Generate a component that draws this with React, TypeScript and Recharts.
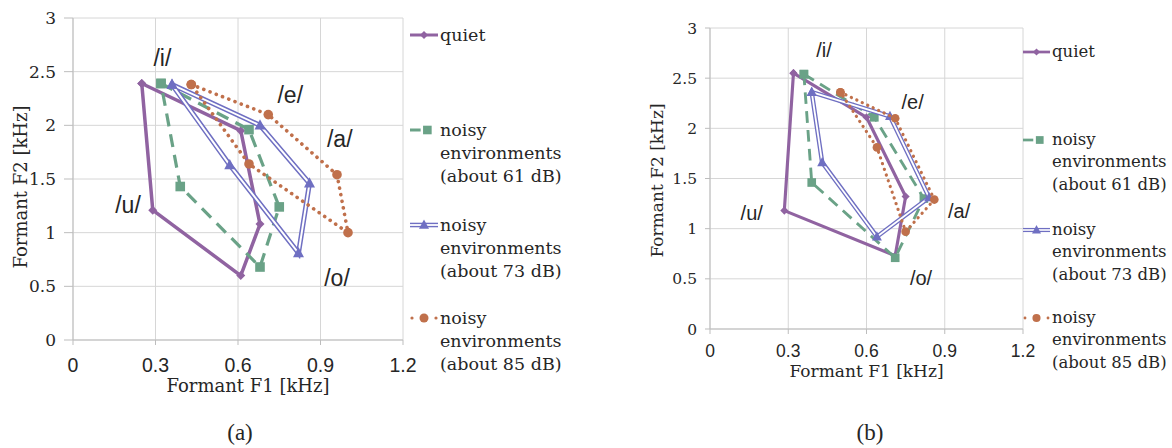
import React from 'react';
import { ScatterChart, Scatter, XAxis, YAxis, CartesianGrid, ReferenceDot } from 'recharts';

// ---------- shared ----------
const xTicks = [0, 0.3, 0.6, 0.9, 1.2];
const yTicks = [0, 0.5, 1, 1.5, 2, 2.5, 3];
const vowels = ['/i/', '/e/', '/a/', '/o/', '/u/'];
const legendLines = [
  ['quiet'],
  ['noisy', 'environments', '(about 61 dB)'],
  ['noisy', 'environments', '(about 73 dB)'],
  ['noisy', 'environments', '(about 85 dB)'],
];
const captions = ['(a)', '(b)'];
const xTitle = 'Formant F1 [kHz]';
const yTitle = 'Formant F2 [kHz]';

// ---------- panel (a) ----------  order: /i/, /e/, /a/, /o/, /u/
const aQuietF1 = [0.25, 0.61, 0.68, 0.61, 0.29];
const aQuietF2 = [2.39, 1.95, 1.08, 0.6, 1.21];
const a61F1 = [0.32, 0.64, 0.75, 0.68, 0.39];
const a61F2 = [2.39, 1.96, 1.24, 0.68, 1.43];
const a73F1 = [0.36, 0.68, 0.86, 0.82, 0.57];
const a73F2 = [2.38, 2.0, 1.46, 0.81, 1.63];
const a85F1 = [0.43, 0.71, 0.96, 1.0, 0.64];
const a85F2 = [2.38, 2.1, 1.54, 1.0, 1.64];
const aLabelF1 = [0.325, 0.79, 0.97, 0.96, 0.2];
const aLabelF2 = [2.63, 2.28, 1.87, 0.58, 1.26];

// ---------- panel (b) ----------
const bQuietF1 = [0.32, 0.6, 0.75, 0.71, 0.285];
const bQuietF2 = [2.55, 2.11, 1.32, 0.73, 1.18];
const b61F1 = [0.36, 0.63, 0.82, 0.71, 0.39];
const b61F2 = [2.54, 2.11, 1.3, 0.71, 1.46];
const b73F1 = [0.39, 0.69, 0.84, 0.64, 0.43];
const b73F2 = [2.36, 2.12, 1.31, 0.92, 1.66];
const b85F1 = [0.5, 0.71, 0.86, 0.75, 0.64];
const b85F2 = [2.36, 2.1, 1.29, 0.97, 1.81];
const bLabelF1 = [0.437, 0.777, 0.955, 0.809, 0.16];
const bLabelF2 = [2.78, 2.26, 1.18, 0.51, 1.16];

const PURPLE = '#9063a1';
const GREEN = '#6aa287';
const BLUE = '#6f6fc2';
const ORANGE = '#c0704b';
const GRID = '#d6d6d6';
const AXIS = '#bdbdbd';
const TEXT = '#262626';
const SERIF = "'DejaVu Serif', 'Liberation Serif', serif";
const SANS = "'Liberation Sans', Arial, sans-serif";

const closed = (f1: number[], f2: number[]) => {
  const pts = f1.map((x, i) => ({ x, y: f2[i] }));
  return [...pts, pts[0]];
};

const diamond = (s: number, color: string) => (p: any) => (
  <path d={`M${p.cx},${p.cy - s}L${p.cx + s},${p.cy}L${p.cx},${p.cy + s}L${p.cx - s},${p.cy}Z`} fill={color} />
);
const square = (s: number, color: string) => (p: any) => (
  <rect x={p.cx - s} y={p.cy - s} width={2 * s} height={2 * s} fill={color} />
);
const triangle = (s: number, color: string) => (p: any) => (
  <path d={`M${p.cx},${p.cy - s * 1.1}L${p.cx + s},${p.cy + s * 0.75}L${p.cx - s},${p.cy + s * 0.75}Z`} fill={color} />
);
const circle = (s: number, color: string) => (p: any) => <circle cx={p.cx} cy={p.cy} r={s} fill={color} />;
const none = () => <g />;

type PanelCfg = {
  left: number;
  width: number;
  height: number;
  top: number;
  right: number;
  yAxisWidth: number;
  xAxisHeight: number;
  xTickFont: number;
  yTickFont: number;
  xTickMargin: number;
  yTickSize: number;
  titleFont: number;
  labelFont: number;
  yTitleX: number;
  yTitleDy: number;
  xTitleDx: number;
  xTitleDy: number;
  scale: number;
  data: { q: any[]; d61: any[]; d73: any[]; d85: any[] };
  labels: { x: number; y: number; t: string }[];
};

function Panel({ c }: { c: PanelCfg }) {
  const k = c.scale;
  return (
    <div style={{ position: 'absolute', left: c.left, top: 0 }}>
      <ScatterChart width={c.width} height={c.height} margin={{ top: c.top, right: c.right, left: 0, bottom: 0 }}>
        <CartesianGrid stroke={GRID} strokeWidth={1} />
        <XAxis
          type="number"
          dataKey="x"
          domain={[0, 1.2]}
          ticks={xTicks}
          interval={0}
          height={c.xAxisHeight}
          axisLine={{ stroke: AXIS }}
          tickLine={{ stroke: AXIS }}
          tickSize={5}
          tickMargin={c.xTickMargin}
          tick={{ fontFamily: SANS, fontSize: c.xTickFont, fill: TEXT }}
          label={(p: any) => {
            const vb = p.viewBox;
            return (
              <text
                x={vb.x + vb.width / 2 + c.xTitleDx}
                y={vb.y + c.xTitleDy}
                textAnchor="middle"
                fontFamily={SERIF}
                fontSize={c.titleFont}
                fill={TEXT}
              >
                {xTitle}
              </text>
            );
          }}
        />
        <YAxis
          type="number"
          dataKey="y"
          domain={[0, 3]}
          ticks={yTicks}
          interval={0}
          width={c.yAxisWidth}
          axisLine={{ stroke: AXIS }}
          tickLine={{ stroke: AXIS }}
          tickSize={c.yTickSize}
          tickMargin={8}
          tick={{ fontFamily: SERIF, fontSize: c.yTickFont, fill: TEXT }}
          label={(p: any) => {
            const vb = p.viewBox;
            const cx = c.yTitleX;
            const cy = vb.y + vb.height / 2 + c.yTitleDy;
            return (
              <text
                x={cx}
                y={cy}
                transform={`rotate(-90 ${cx} ${cy})`}
                textAnchor="middle"
                dominantBaseline="central"
                fontFamily={SERIF}
                fontSize={c.titleFont}
                fill={TEXT}
              >
                {yTitle}
              </text>
            );
          }}
        />
        <Scatter
          data={c.data.q}
          isAnimationActive={false}
          line={{ stroke: PURPLE, strokeWidth: 3.5 * k, strokeLinejoin: 'round' }}
          shape={diamond(4.5 * k, PURPLE)}
        />
        <Scatter
          data={c.data.d61}
          isAnimationActive={false}
          line={{ stroke: GREEN, strokeWidth: 3.2 * k, strokeDasharray: `${13 * k} ${8 * k}` }}
          shape={square(4.8 * k, GREEN)}
        />
        <Scatter
          data={c.data.d73}
          isAnimationActive={false}
          line={{ stroke: BLUE, strokeWidth: 5 * k, strokeLinejoin: 'miter' }}
          shape={none}
        />
        <Scatter
          data={c.data.d73}
          isAnimationActive={false}
          line={{ stroke: '#ffffff', strokeWidth: 2 * k, strokeLinejoin: 'miter' }}
          shape={triangle(5.5 * k, BLUE)}
        />
        <Scatter
          data={c.data.d85}
          isAnimationActive={false}
          line={{ stroke: ORANGE, strokeWidth: 3.6 * k, strokeDasharray: `0.1 ${6.6 * k}`, strokeLinecap: 'round' }}
          shape={circle(4.8 * k, ORANGE)}
        />
        {c.labels.map((l) => (
          <ReferenceDot
            key={l.t}
            x={l.x}
            y={l.y}
            r={0}
            fill="none"
            stroke="none"
            label={{
              value: l.t,
              position: 'center',
              fontSize: c.labelFont,
              fontFamily: SANS,
              fill: TEXT,
            }}
          />
        ))}
      </ScatterChart>
    </div>
  );
}

function Sample({ kind, w, k }: { kind: number; w: number; k: number }) {
  const h = 16;
  const cy = h / 2;
  const cx = w / 2;
  let body: any = null;
  if (kind === 0) {
    body = (
      <g>
        <line x1={0} y1={cy} x2={w} y2={cy} stroke={PURPLE} strokeWidth={3 * k} />
        {diamond(4 * k, PURPLE)({ cx, cy })}
      </g>
    );
  } else if (kind === 1) {
    body = (
      <g>
        <line x1={0} y1={cy} x2={w * 0.38} y2={cy} stroke={GREEN} strokeWidth={3 * k} />
        {square(4.3 * k, GREEN)({ cx: w * 0.62, cy })}
      </g>
    );
  } else if (kind === 2) {
    body = (
      <g>
        <line x1={0} y1={cy} x2={w} y2={cy} stroke={BLUE} strokeWidth={4.6 * k} />
        <line x1={0} y1={cy} x2={w} y2={cy} stroke="#fff" strokeWidth={1.8 * k} />
        {triangle(5 * k, BLUE)({ cx, cy })}
      </g>
    );
  } else {
    body = (
      <g>
        <circle cx={2} cy={cy} r={1.6 * k} fill={ORANGE} />
        <circle cx={w - 2} cy={cy} r={1.6 * k} fill={ORANGE} />
        {circle(4.5 * k, ORANGE)({ cx, cy })}
      </g>
    );
  }
  return (
    <svg width={w} height={h} style={{ position: 'absolute', left: 0, top: -h / 2, overflow: 'visible' }}>
      {body}
    </svg>
  );
}

function LegendBlock({
  sampleX,
  textX,
  tops,
  font,
  lineH,
  k,
}: {
  sampleX: number;
  textX: number;
  tops: number[];
  font: number;
  lineH: number;
  k: number;
}) {
  return (
    <>
      {legendLines.map((lines, i) => (
        <React.Fragment key={i}>
          <div style={{ position: 'absolute', left: sampleX, top: tops[i], width: textX - sampleX }}>
            <Sample kind={i} w={textX - sampleX - 2} k={k} />
          </div>
          <div
            style={{
              position: 'absolute',
              left: textX,
              top: tops[i] - lineH / 2,
              fontFamily: SERIF,
              fontSize: font,
              lineHeight: `${lineH}px`,
              color: TEXT,
              whiteSpace: 'nowrap',
            }}
          >
            {lines.map((t, j) => (
              <div key={j}>{t}</div>
            ))}
          </div>
        </React.Fragment>
      ))}
    </>
  );
}

const mkLabels = (f1: number[], f2: number[]) => vowels.map((t, i) => ({ x: f1[i], y: f2[i], t }));

const panelA: PanelCfg = {
  left: 0,
  width: 580,
  height: 400,
  top: 18,
  right: 177,
  yAxisWidth: 73,
  xAxisHeight: 60,
  xTickFont: 19.5,
  yTickFont: 17,
  xTickMargin: 13,
  yTickSize: 9,
  titleFont: 18,
  labelFont: 23,
  yTitleX: 20,
  yTitleDy: 8,
  xTitleDx: 10,
  xTitleDy: 52,
  scale: 1,
  data: {
    q: closed(aQuietF1, aQuietF2),
    d61: closed(a61F1, a61F2),
    d73: closed(a73F1, a73F2),
    d85: closed(a85F1, a85F2),
  },
  labels: mkLabels(aLabelF1, aLabelF2),
};

const panelB: PanelCfg = {
  left: 600,
  width: 572,
  height: 400,
  top: 28,
  right: 149,
  yAxisWidth: 110,
  xAxisHeight: 71,
  xTickFont: 17.5,
  yTickFont: 15.5,
  xTickMargin: 11,
  yTickSize: 5,
  titleFont: 17,
  labelFont: 20,
  yTitleX: 57,
  yTitleDy: 2,
  xTitleDx: 0,
  xTitleDy: 48,
  scale: 0.9,
  data: {
    q: closed(bQuietF1, bQuietF2),
    d61: closed(b61F1, b61F2),
    d73: closed(b73F1, b73F2),
    d85: closed(b85F1, b85F2),
  },
  labels: mkLabels(bLabelF1, bLabelF2),
};

export default function App() {
  return (
    <div style={{ position: 'absolute', left: 0, top: 0, width: 1172, height: 448, background: '#fff', overflow: 'hidden' }}>
      <Panel c={panelA} />
      <Panel c={panelB} />
      <LegendBlock sampleX={410} textX={440} tops={[35, 130, 225, 318]} font={17.5} lineH={23} k={1} />
      <LegendBlock sampleX={1023} textX={1052} tops={[52, 140, 230, 318]} font={16.5} lineH={22.5} k={0.9} />
      {captions.map((t, i) => (
        <div
          key={t}
          style={{
            position: 'absolute',
            left: i === 0 ? 200 : 830,
            width: 80,
            top: 419,
            textAlign: 'center',
            fontFamily: 'Liberation Serif',
            fontSize: 23,
            lineHeight: '28px',
            color: TEXT,
          }}
        >
          {t}
        </div>
      ))}
    </div>
  );
}
